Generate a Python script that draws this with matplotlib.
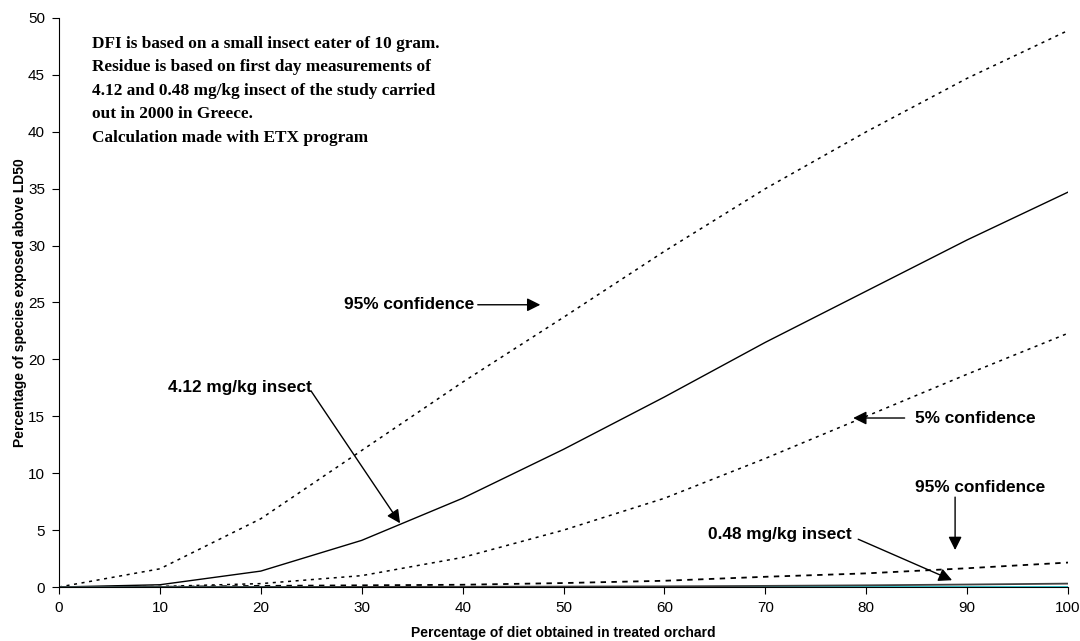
import numpy as np
import matplotlib
matplotlib.use("Agg")
from matplotlib import pyplot as plt

# diet percentage
diet = [0, 10, 20, 30, 40, 50, 60, 70, 80, 90, 100]

# 4.12 mg/kg insect
mid_412 = [0, 0.2, 1.4, 4.1, 7.8, 12.1, 16.7, 21.5, 26.0, 30.5, 34.7]
up_412 = [0, 1.6, 6.0, 12.0, 18.0, 23.7, 29.5, 35.0, 40.0, 44.7, 48.9]
lo_412 = [0, 0.05, 0.3, 1.0, 2.6, 5.0, 7.8, 11.3, 15.0, 18.7, 22.3]

# 0.48 mg/kg insect
mid_048 = [0, 0, 0, 0.01, 0.02, 0.04, 0.06, 0.1, 0.15, 0.22, 0.3]
up_048 = [0, 0.02, 0.1, 0.15, 0.2, 0.35, 0.55, 0.9, 1.2, 1.65, 2.15]
lo_048 = [0, 0, 0, 0, 0, 0, 0, 0, 0, 0, 0]

note = ("DFI is based on a small insect eater of 10 gram.\n"
        "Residue is based on first day measurements of\n"
        "4.12 and 0.48 mg/kg insect of the study carried\n"
        "out in 2000 in Greece.\n"
        "Calculation made with ETX program")

plt.rcParams['font.family'] = ['Liberation Sans', 'DejaVu Sans']

fig = plt.figure(figsize=(10.8, 6.41), dpi=100)
ax = fig.add_axes([0.0546, 0.0842, 0.9344, 0.8878])

dot = (0, (2, 3))
ax.plot(diet, up_412, color='black', lw=1.1, linestyle=dot)
ax.plot(diet, mid_412, color='black', lw=1.0)
ax.plot(diet, lo_412, color='black', lw=1.1, linestyle=dot)
ax.plot(diet, up_048, color='black', lw=1.3, linestyle=(0, (3, 3)))
ax.plot(diet, lo_048, color='#20c0c8', lw=1.3)
ax.plot(diet, mid_048, color='#404040', lw=1.3)

ax.set_xlim(0, 100)
ax.set_ylim(0, 50)
ax.set_xticks(range(0, 101, 10))
ax.set_yticks(range(0, 51, 5))
ax.tick_params(direction='out', length=5, labelsize=11, pad=5)
ax.spines['top'].set_visible(False)
ax.spines['right'].set_visible(False)

ax.set_xlabel("Percentage of diet obtained in treated orchard", fontsize=10, fontweight='bold', labelpad=8)
ax.set_ylabel("Percentage of species exposed above LD50", fontsize=10, fontweight='bold', labelpad=1)

ax.text(3.3, 48.45, note, family='Liberation Serif', fontsize=12.4, fontweight='bold',
        va='top', ha='left', linespacing=1.63)

arrow = dict(arrowstyle='-|>', color='black', lw=1.0, mutation_scale=20, shrinkA=0, shrinkB=0)
lab = dict(fontsize=12.4, fontweight='bold', va='center')

ax.annotate("", xy=(47.7, 24.8), xytext=(41.5, 24.8), arrowprops=arrow)
ax.text(41.2, 24.8, "95% confidence", ha='right', **lab)

ax.annotate("", xy=(33.8, 5.6), xytext=(25.0, 17.2), arrowprops=arrow)
ax.text(17.9, 17.5, "4.12 mg/kg insect", ha='center', **lab)

ax.annotate("", xy=(78.7, 14.85), xytext=(83.8, 14.85), arrowprops=arrow)
ax.text(84.8, 14.85, "5% confidence", ha='left', **lab)

ax.annotate("", xy=(88.8, 3.25), xytext=(88.8, 7.9), arrowprops=arrow)
ax.text(91.3, 8.75, "95% confidence", ha='center', **lab)

ax.annotate("", xy=(88.5, 0.6), xytext=(79.2, 4.2), arrowprops=arrow)
ax.text(71.4, 4.6, "0.48 mg/kg insect", ha='center', **lab)

fig.savefig("out.png", dpi=100)
